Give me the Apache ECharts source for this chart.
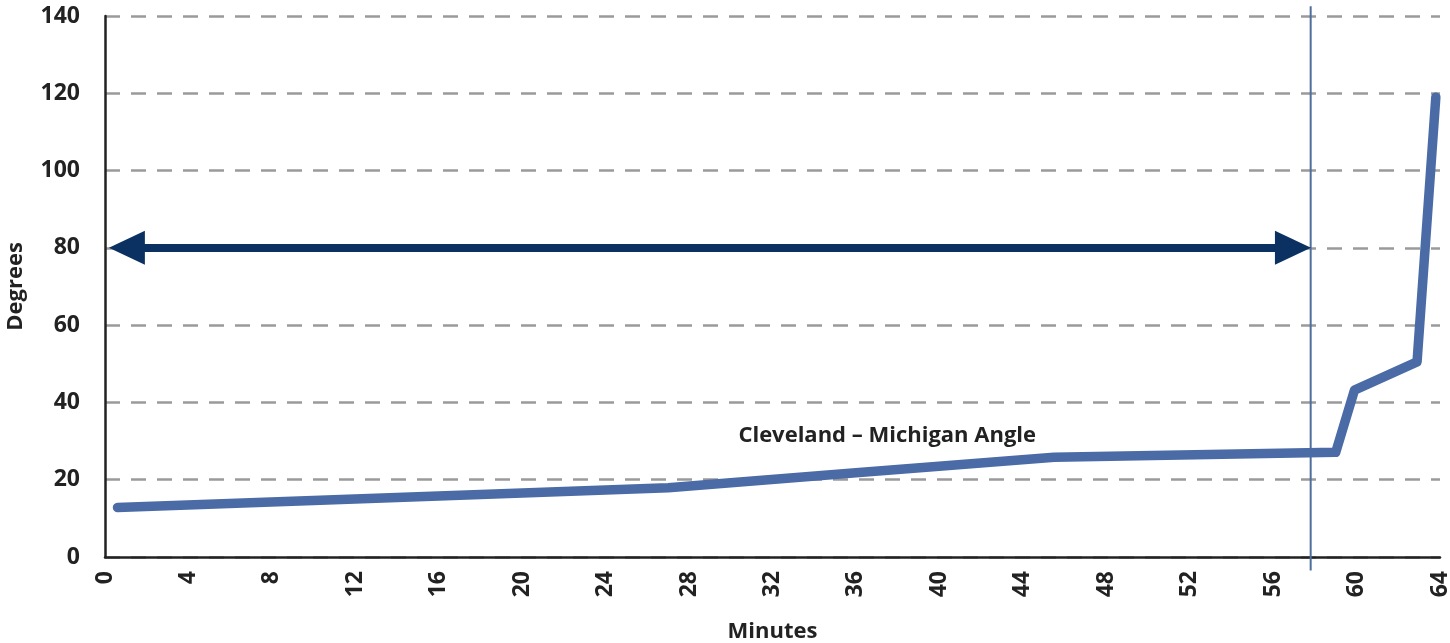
<!DOCTYPE html>
<html>
<head>
<meta charset="utf-8">
<script src="https://cdn.jsdelivr.net/npm/echarts@6/dist/echarts.min.js"></script>
<style>
  html, body { margin: 0; padding: 0; background: #fff; }
  #main { width: 1450px; height: 643px; }
</style>
</head>
<body>
<div id="main"></div>
<script>
// angle readings, minutes vs degrees
var minutes = [0.6, 16, 27, 36, 45.5, 59, 59.9, 62.9, 63.8];
var degrees = [12.8, 15.8, 17.9, 21.8, 25.8, 27.1, 43.2, 50.5, 119];
var limitMinute = 57.8;
var limitSpan = [142.5, -3.5];
var arrowLevel = 80;
var arrowEnds = [1.05, 56.95];   // centres of the two heads
var seriesLabel = 'Cleveland – Michigan Angle';
var labelAt = [37.5, 31.5];

var font = '"Open Sans", "Liberation Sans", sans-serif';
var chart = echarts.init(document.getElementById('main'));

var pts = [];
for (var i = 0; i < minutes.length; i++) {
  pts.push([minutes[i], degrees[i]]);
}

var option = {
  animation: false,
  grid: { left: 105, right: 10, top: 16, bottom: 86, outerBoundsMode: 'none', containLabel: false },
  xAxis: {
    type: 'value',
    min: 0,
    max: 64,
    interval: 4,
    name: 'Minutes',
    nameLocation: 'middle',
    nameGap: 64,
    nameTextStyle: { fontFamily: font, fontWeight: 'bold', fontSize: 22, color: '#222' },
    axisLine: { lineStyle: { color: '#222', width: 2.5 } },
    axisTick: { show: false },
    splitLine: { show: false },
    axisLabel: { rotate: 90, margin: 14, fontFamily: font, fontWeight: 'bold', fontSize: 23, color: '#222' }
  },
  yAxis: {
    type: 'value',
    min: 0,
    max: 140,
    interval: 20,
    name: 'Degrees',
    nameLocation: 'middle',
    nameGap: 78,
    nameTextStyle: { fontFamily: font, fontWeight: 'bold', fontSize: 22, color: '#222' },
    axisLine: { show: true, lineStyle: { color: '#222', width: 2.5 } },
    axisTick: { show: false },
    splitLine: { lineStyle: { color: '#9a9a9a', width: 2.5, type: [15, 11] } },
    axisLabel: { margin: 25, fontFamily: font, fontWeight: 'bold', fontSize: 23, color: '#222' }
  },
  series: [{
    // thin vertical marker
    type: 'line',
    data: [[limitMinute, limitSpan[0]], [limitMinute, limitSpan[1]]],
    symbol: 'none',
    clip: false,
    silent: true,
    z: 1,
    lineStyle: { color: '#4e6f9c', width: 2 }
  }, {
    type: 'line',
    data: pts,
    symbol: 'none',
    clip: false,
    z: 3,
    lineStyle: { color: '#4a6ba5', width: 9.5, cap: 'round', join: 'round' },
    markLine: {
      silent: true,
      animation: false,
      data: [
        [
          { coord: [arrowEnds[0], arrowLevel], symbol: 'triangle', symbolSize: [34, 36], lineStyle: { color: '#0a3161', width: 8, type: 'solid' }, itemStyle: { color: '#0a3161' }, label: { show: false } },
          { coord: [arrowEnds[1], arrowLevel], symbol: 'triangle', symbolSize: [34, 36] }
        ]
      ]
    },
    markPoint: {
      silent: true,
      symbolSize: 0,
      data: [{
        coord: labelAt,
        label: { show: true, formatter: seriesLabel, fontFamily: font, fontWeight: 'bold', fontSize: 22, color: '#222' }
      }]
    }
  }]
};

chart.setOption(option);
</script>
</body>
</html>
